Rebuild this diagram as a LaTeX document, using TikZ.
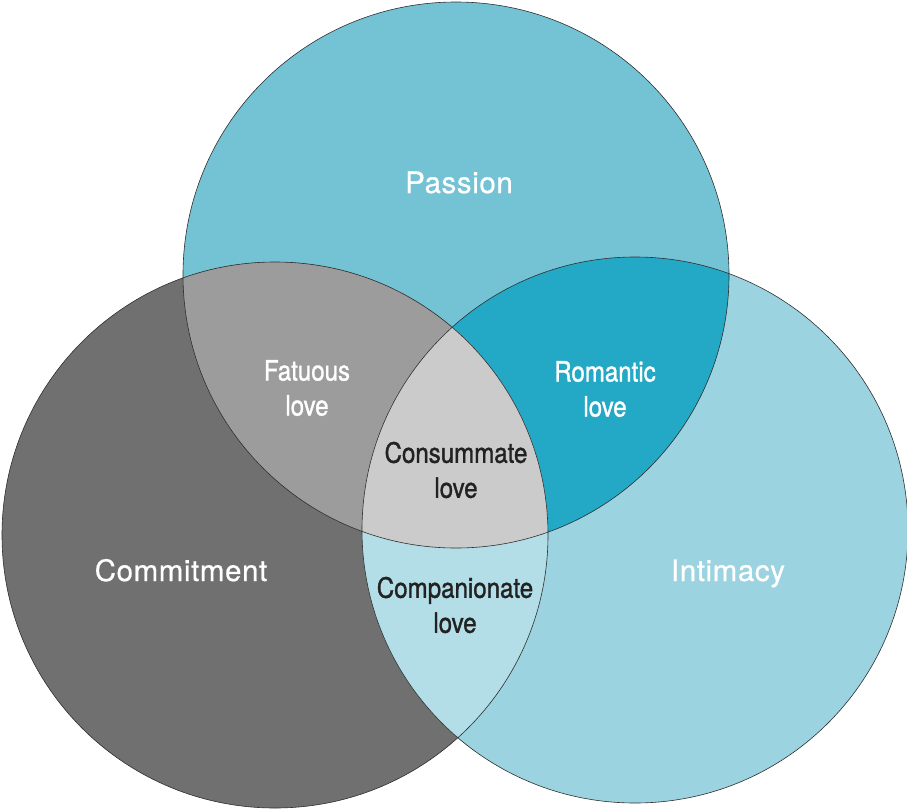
\documentclass[tikz,border=0pt]{standalone}
\usepackage{fontspec}
\newfontfamily\heros[FakeBold=0.6,LetterSpace=2]{TeX Gyre Heros}
\newfontfamily\cond[FakeStretch=0.86,FakeBold=1.2]{TeX Gyre Heros}
\definecolor{passionc}{HTML}{74C3D5}
\definecolor{intimc}{HTML}{9CD3E0}
\definecolor{commitc}{HTML}{6F706F}
\definecolor{romc}{HTML}{23A9C5}
\definecolor{fatc}{HTML}{9C9C9C}
\definecolor{consc}{HTML}{CBCBCB}
\definecolor{compc}{HTML}{B3DEE7}
\definecolor{edgec}{HTML}{2E2E2E}
\definecolor{darktext}{HTML}{222222}
\tikzset{
  ring/.style={circle, minimum size=546pt, inner sep=0pt, draw=edgec, line width=0.6pt},
  biglabel/.style={font=\heros\fontsize{29.5}{34}\selectfont, text=white, inner sep=0pt, anchor=base},
  smalllabel/.style={font=\cond\fontsize{28}{35}\selectfont, align=center, inner sep=0pt},
}
\begin{document}
\begin{tikzpicture}[x=1pt,y=-1pt]
\useasboundingbox (0,0) rectangle (907,809);
% base fills
\fill[passionc] (456,275) circle (273pt);
\fill[commitc] (275,535) circle (273pt);
\fill[intimc] (635,530) circle (273pt);
% pairwise intersections
\begin{scope}
  \clip (456,275) circle (273pt);
  \fill[fatc] (275,535) circle (273pt);
  \fill[romc] (635,530) circle (273pt);
\end{scope}
\begin{scope}
  \clip (275,535) circle (273pt);
  \fill[compc] (635,530) circle (273pt);
  \clip (635,530) circle (273pt);
  \fill[consc] (456,275) circle (273pt);
\end{scope}
% outlines
\node[ring] (P) at (456,275) {};
\node[ring] (C) at (275,535) {};
\node[ring] (I) at (635,530) {};
% labels
\node[biglabel] (lp) at (459,193) {Passion};
\node[biglabel] (lc) at (181,581) {Commitment};
\node[biglabel] (li) at (728,581) {Intimacy};
\node[smalllabel, text=white] (lf) at (307,388) {Fatuous\\love};
\node[smalllabel, text=white] (lr) at (605,389) {Romantic\\love};
\node[smalllabel, text=darktext] (lcs) at (456,470) {Consummate\\love};
\node[smalllabel, text=darktext] (lcp) at (455,605) {Companionate\\love};
\end{tikzpicture}
\end{document}
